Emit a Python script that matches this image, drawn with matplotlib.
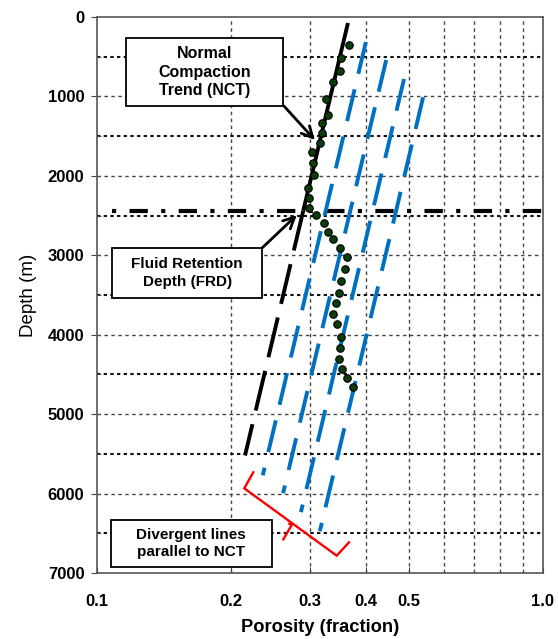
import numpy as np
import matplotlib
matplotlib.use("Agg")
import matplotlib.pyplot as plt
from matplotlib.patches import Rectangle
from matplotlib.ticker import FixedLocator, NullFormatter

plt.rcParams["font.family"] = ["Liberation Sans", "DejaVu Sans"]

# Measured porosity vs depth
porosity = [0.368, 0.352, 0.351, 0.339, 0.327, 0.329, 0.319, 0.320, 0.316,
            0.303, 0.305, 0.307, 0.297, 0.298, 0.298, 0.309, 0.323, 0.329,
            0.339, 0.351, 0.363, 0.360, 0.352, 0.348, 0.343, 0.339, 0.345,
            0.352, 0.351, 0.349, 0.354, 0.363, 0.374]
depth = [356, 512, 676, 822, 1032, 1234, 1331, 1457, 1586,
         1703, 1842, 1989, 2157, 2275, 2408, 2493, 2590, 2703,
         2799, 2912, 3025, 3168, 3320, 3479, 3604, 3739, 3865,
         4025, 4171, 4306, 4435, 4549, 4654]

# Normal compaction trend: phi = phi0 * exp(-c z)
nct_phi0 = 0.368
nct_c = 9.76e-5
nct_top, frd_depth, nct_bottom = 75, 2440, 5520

# Lines parallel to the NCT (porosity multipliers, depth ranges)
par_factor = [1.123, 1.275, 1.431, 1.615]
par_top = [315, 540, 780, 1010]
par_bottom = [5770, 5995, 6234, 6473]

x_ticks = [0.1, 0.2, 0.3, 0.4, 0.5, 1.0]
x_ticklabels = ["0.1", "0.2", "0.3", "0.4", "0.5", "1.0"]
y_ticks = [0, 1000, 2000, 3000, 4000, 5000, 6000, 7000]
v_grid = [0.2, 0.3, 0.4, 0.5, 0.6, 0.7, 0.8, 0.9]
h_grid_major = [1000, 2000, 3000, 4000, 5000, 6000]
h_grid_minor = [500, 1500, 2500, 3500, 4500, 5500, 6500]

# Red brace marking the divergent lines
brace_x = [0.2241, 0.2139, 0.3447, 0.3673]
brace_z = [5732, 5934, 6782, 6614]
spike_x = [0.2700, 0.2732, 0.2617]
spike_z = [6380, 6396, 6576]


def nct(z, factor=1.0):
    return factor * nct_phi0 * np.exp(-nct_c * np.asarray(z))


fig = plt.figure(figsize=(5.58, 6.39), dpi=100)
ax = fig.add_axes([97 / 558, 66 / 639, 446 / 558, 556 / 639])
ax.set_xscale("log")
ax.set_xlim(0.1, 1.0)
ax.set_ylim(7000, 0)

# grid
for xv in v_grid:
    ax.axvline(xv, color="#444444", lw=1.0, dashes=(2.5, 2.5), zorder=1)
for yv in h_grid_major:
    ax.axhline(yv, color="#444444", lw=1.0, dashes=(2.5, 2.5), zorder=1)
for yv in h_grid_minor:
    ax.axhline(yv, color="#111111", lw=1.5, dashes=(1.6, 1.6), zorder=1)

# fluid retention depth
ax.plot([0.108, 1.0], [frd_depth, frd_depth], color="black", lw=3.0,
        dashes=(1.0, 3.2, 4.4, 3.2), solid_capstyle="butt",
        dash_capstyle="butt", zorder=3)

# parallel lines
for f, zt, zb in zip(par_factor, par_top, par_bottom):
    z = np.linspace(zt, zb, 100)
    ax.plot(nct(z, f), z, color="#0070C0", lw=2.8, dashes=(8.4, 4.1),
            dash_capstyle="butt", zorder=4)

# normal compaction trend
z_solid = np.linspace(nct_top, frd_depth, 100)
z_dash = np.linspace(frd_depth, nct_bottom, 100)
ax.plot(nct(z_solid), z_solid, color="black", lw=2.8, zorder=5,
        solid_capstyle="butt")
ax.plot(nct(z_dash), z_dash, color="black", lw=2.8, dashes=(10.5, 3.6),
        dash_capstyle="butt", zorder=5)

# data
ax.plot(porosity, depth, "o", ms=5.4, mfc="#0B3D0B", mec="black", mew=0.8,
        zorder=6)

# brace
ax.plot(brace_x, brace_z, color="red", lw=1.7, zorder=6, solid_joinstyle="miter")
ax.plot(spike_x, spike_z, color="red", lw=1.7, zorder=6)

# ticks
ax.set_xticks(x_ticks)
ax.set_xticklabels(x_ticklabels, fontsize=12, fontweight="bold")
ax.xaxis.set_minor_locator(FixedLocator([0.6, 0.7, 0.8, 0.9]))
ax.xaxis.set_minor_formatter(NullFormatter())
ax.set_yticks(y_ticks)
ax.set_yticklabels([str(v) for v in y_ticks], fontsize=12, fontweight="bold")
ax.yaxis.set_minor_locator(FixedLocator(h_grid_minor))
ax.tick_params(axis="y", which="major", direction="out", length=4, pad=5,
               color="#444444")
ax.tick_params(axis="y", which="minor", direction="in", length=3,
               color="#444444")
ax.tick_params(axis="x", which="major", direction="in", length=4, pad=15,
               color="#444444")
ax.tick_params(axis="x", which="minor", direction="in", length=3,
               color="#444444")
for s in ax.spines.values():
    s.set_color("#555555")
    s.set_linewidth(1.2)

ax.set_xlabel("Porosity (fraction)", fontsize=13.2, fontweight="bold",
              labelpad=7)
ax.set_ylabel("Depth (m)", fontsize=13.5, labelpad=8)


def label_box(x0, y0, x1, y1, text, size, spacing):
    ax.add_patch(Rectangle((x0, y0), x1 - x0, y1 - y0, transform=ax.transAxes,
                           facecolor="white", edgecolor="black", lw=1.3,
                           zorder=8))
    ax.text((x0 + x1) / 2, (y0 + y1) / 2, text, transform=ax.transAxes,
            ha="center", va="center", fontsize=size, fontweight="bold",
            linespacing=spacing, zorder=9)


label_box(0.065, 0.840, 0.417, 0.962, "Normal\nCompaction\nTrend (NCT)", 11.5, 1.28)
label_box(0.034, 0.4946, 0.370, 0.5845, "Fluid Retention\nDepth (FRD)", 11, 1.3)
label_box(0.031, 0.011, 0.392, 0.0953, "Divergent lines\nparallel to NCT", 11, 1.2)

arrow_kw = dict(arrowstyle="->,head_length=0.8,head_width=0.4",
                color="black", lw=2.0, shrinkA=0, shrinkB=0)
ax.annotate("", xy=(0.308, 1549), xycoords="data",
            xytext=(0.419, 0.840), textcoords="axes fraction",
            arrowprops=arrow_kw, zorder=9)
ax.annotate("", xy=(0.2805, 2494), xycoords="data",
            xytext=(0.370, 0.5845), textcoords="axes fraction",
            arrowprops=arrow_kw, zorder=9)

fig.savefig("out.png", dpi=100)
